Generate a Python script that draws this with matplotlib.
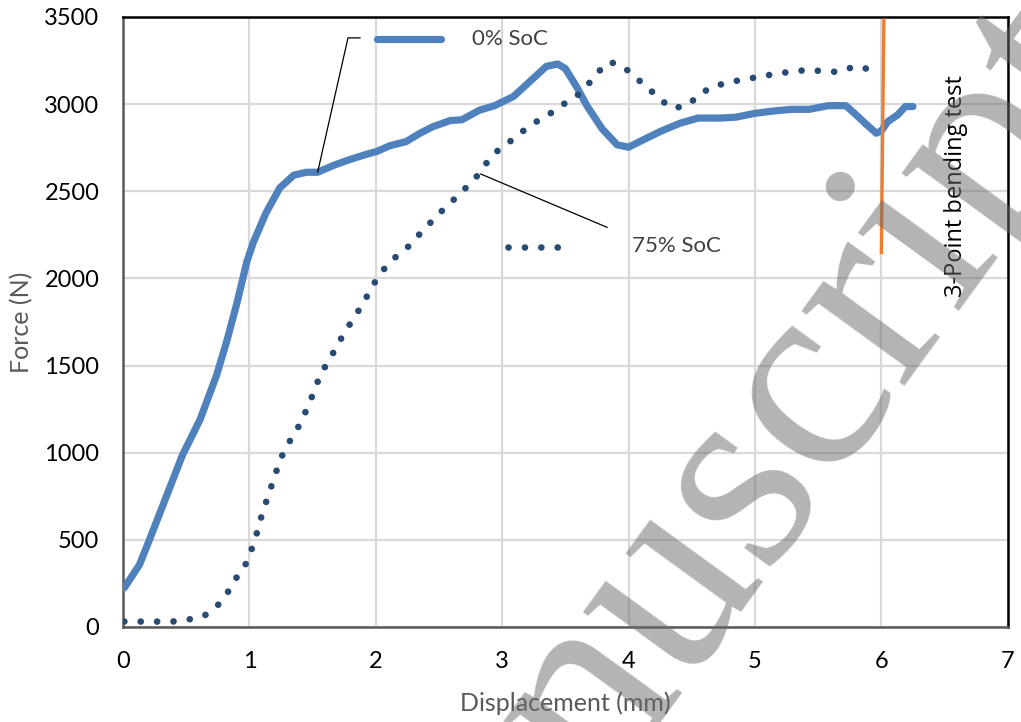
import matplotlib
matplotlib.use("Agg")
import matplotlib.pyplot as plt

# Curva fuerza-desplazamiento, 0% SoC
x_0 = [0.01, 0.13, 0.21, 0.34, 0.47, 0.61, 0.74, 0.82, 0.90, 0.98, 1.03, 1.13, 1.24,
       1.35, 1.45, 1.54, 1.66, 1.79, 1.93, 2.01, 2.11, 2.24, 2.35, 2.45, 2.59, 2.68,
       2.82, 2.94, 3.09, 3.23, 3.35, 3.44, 3.50, 3.59, 3.67, 3.79, 3.91, 4.00, 4.11,
       4.26, 4.41, 4.55, 4.73, 4.85, 4.99, 5.14, 5.29, 5.43, 5.58, 5.72, 5.78, 5.87,
       5.96, 6.00, 6.05, 6.13, 6.19, 6.25]
f_0 = [225, 357, 502, 744, 986, 1191, 1444, 1638, 1855, 2097, 2205, 2374, 2519,
       2592, 2609, 2609, 2647, 2681, 2713, 2729, 2761, 2785, 2833, 2870, 2906, 2910,
       2965, 2991, 3044, 3137, 3217, 3230, 3204, 3098, 2991, 2859, 2766, 2753, 2793,
       2846, 2891, 2920, 2920, 2925, 2946, 2960, 2970, 2970, 2991, 2991, 2952, 2891,
       2833, 2846, 2899, 2939, 2986, 2986]

# Curva fuerza-desplazamiento, 75% SoC
x_75 = [0.01, 0.14, 0.27, 0.39, 0.52, 0.64, 0.74, 0.82, 0.88, 0.96, 1.01, 1.05, 1.08,
        1.12, 1.16, 1.20, 1.24, 1.29, 1.36, 1.42, 1.47, 1.52, 1.56, 1.63, 1.69, 1.75,
        1.82, 1.89, 1.95, 2.01, 2.09, 2.18, 2.28, 2.36, 2.45, 2.54, 2.63, 2.72, 2.81,
        2.88, 2.97, 3.07, 3.17, 3.27, 3.38, 3.48, 3.59, 3.68, 3.76, 3.85, 3.96, 4.06,
        4.16, 4.25, 4.35, 4.47, 4.56, 4.67, 4.80, 4.92, 5.05, 5.17, 5.30, 5.42, 5.55,
        5.67, 5.79, 5.92]
f_75 = [31, 31, 31, 31, 43, 63, 116, 188, 266, 343, 430, 514, 599,
        691, 778, 865, 952, 1034, 1111, 1193, 1278, 1365, 1449, 1529, 1609, 1686,
        1766, 1845, 1923, 2000, 2077, 2138, 2196, 2266, 2333, 2400, 2461, 2525, 2594,
        2666, 2737, 2790, 2848, 2899, 2946, 2997, 3047, 3113, 3185, 3243, 3214, 3150,
        3089, 3026, 2975, 2994, 3055, 3103, 3124, 3145, 3156, 3177, 3185, 3198, 3187,
        3185, 3217, 3198]

# Marca del ensayo de flexión a 3 puntos
x_test = [6.02, 6.00]
f_test = [3482, 2149]

x_ticks = [0, 1, 2, 3, 4, 5, 6, 7]
f_ticks = [0, 500, 1000, 1500, 2000, 2500, 3000, 3500]

azul = "#4F81BD"
azul_osc = "#294B73"
naranja = "#ED7D31"
gris_txt = "#404040"
punteado = (0, (0.01, 2.45))

plt.rcParams["font.family"] = ["Lato", "DejaVu Sans"]

fig = plt.figure(figsize=(10.21, 7.22), dpi=100)
ax = fig.add_axes([0.1205, 0.1316, 0.8665, 0.8449])

# Se dibujan las dos curvas
ax.plot(x_0, f_0, color=azul, lw=5.2, solid_capstyle="round", solid_joinstyle="round", zorder=3)
ax.plot(x_75, f_75, color=azul_osc, lw=4.8, linestyle=punteado,
        dash_capstyle="round", zorder=3)
ax.plot(x_test, f_test, color=naranja, lw=2.4, zorder=3)

ax.set_xlim(0, 7)
ax.set_ylim(0, 3500)
ax.set_xticks(x_ticks)
ax.set_yticks(f_ticks)
ax.grid(True, color="#D9D9D9", lw=1.6)
ax.set_axisbelow(True)
ax.tick_params(length=0, labelsize=17, pad=17, colors="black")
for lado in ["top", "right"]:
    ax.spines[lado].set_color("black")
    ax.spines[lado].set_linewidth(1.8)
for lado in ["left", "bottom"]:
    ax.spines[lado].set_color("#595959")
    ax.spines[lado].set_linewidth(1.8)

ax.set_xlabel("Displacement (mm)", fontsize=18, color="#595959", labelpad=14)
ax.set_ylabel("Force (N)", fontsize=18, color="#595959", labelpad=8)

# Leyenda manual con líneas guía
ax.plot([0.287, 0.359], [0.964, 0.964], transform=ax.transAxes, color=azul, lw=5.2,
        solid_capstyle="round", clip_on=False)
ax.text(0.395, 0.964, "0% SoC", transform=ax.transAxes, fontsize=16, color=gris_txt,
        va="center", ha="left")
ax.plot([0.435, 0.496], [0.623, 0.623], transform=ax.transAxes, color=azul_osc, lw=4.8,
        linestyle=punteado, dash_capstyle="round")
ax.text(0.575, 0.625, "75% SoC", transform=ax.transAxes, fontsize=16, color=gris_txt,
        va="center", ha="left")

ax.plot([1.875, 1.78, 1.54], [3380, 3380, 2610], color="black", lw=0.9, zorder=4)
ax.plot([2.83, 3.83], [2599, 2293], color="black", lw=0.9, zorder=4)

ax.text(0.942, 0.722, "3-Point bending test", transform=ax.transAxes, rotation=90,
        fontsize=17, family=["Open Sans", "DejaVu Sans"], ha="center", va="center")

# Marca de agua
fig.text(600 / 1021, 1 - 796 / 722, "nuscript", family=["Liberation Serif", "DejaVu Serif"],
         fontsize=200, color="#696969", alpha=0.5, rotation=54, rotation_mode="anchor",
         ha="left", va="baseline", zorder=10)

fig.savefig("out.png", dpi=100)
